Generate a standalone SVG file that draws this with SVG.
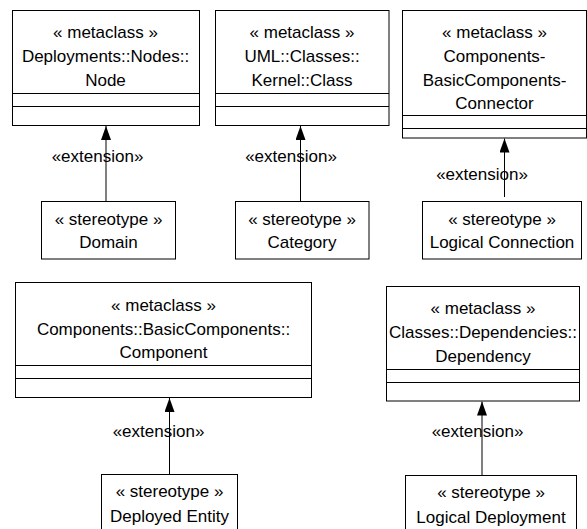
<svg xmlns="http://www.w3.org/2000/svg" width="587" height="529" viewBox="0 0 587 529">
<style>
.box{fill:#fff;stroke:#000;stroke-width:1}
.sep{stroke:#000;stroke-width:1}
.t{font-family:"Liberation Sans",Arial,sans-serif;font-size:17px;fill:#000;text-anchor:middle}
.conn{stroke:#000;stroke-width:1;fill:none;marker-end:url(#tri)}
</style>
<defs>
<marker id="tri" viewBox="0 0 14 10" refX="14" refY="5" markerWidth="14" markerHeight="10" markerUnits="userSpaceOnUse" orient="auto">
<path d="M0,0 L14,5 L0,10 Z" fill="#000"/>
</marker>
</defs>
<rect width="587" height="529" fill="#fff"/>
<g id="node-node">
<rect class="box" x="12.5" y="10.5" width="187" height="115"/>
<line class="sep" x1="12.5" y1="93.5" x2="199.5" y2="93.5"/>
<line class="sep" x1="12.5" y1="106.5" x2="199.5" y2="106.5"/>
<text class="t" x="105.5" y="38">« metaclass »</text>
<text class="t" x="105.5" y="62">Deployments::Nodes::</text>
<text class="t" x="105.5" y="86">Node</text>
</g>
<g id="node-class">
<rect class="box" x="215.5" y="10.5" width="173.5" height="115"/>
<line class="sep" x1="215.5" y1="93.5" x2="389" y2="93.5"/>
<line class="sep" x1="215.5" y1="106.5" x2="389" y2="106.5"/>
<text class="t" x="302" y="38">« metaclass »</text>
<text class="t" x="302" y="62">UML::Classes::</text>
<text class="t" x="302" y="86">Kernel::Class</text>
</g>
<g id="node-connector">
<rect class="box" x="402.5" y="10.5" width="184" height="127.5"/>
<line class="sep" x1="402.5" y1="115.5" x2="586.5" y2="115.5"/>
<line class="sep" x1="402.5" y1="128.5" x2="586.5" y2="128.5"/>
<text class="t" x="494.5" y="38">« metaclass »</text>
<text class="t" x="494.5" y="62">Components-</text>
<text class="t" x="494.5" y="86">BasicComponents-</text>
<text class="t" x="494.5" y="109">Connector</text>
</g>
<g id="node-domain">
<rect class="box" x="41.5" y="201.5" width="134" height="57.5"/>
<text class="t" x="108.5" y="225">« stereotype »</text>
<text class="t" x="108.5" y="248">Domain</text>
</g>
<g id="node-category">
<rect class="box" x="235.5" y="201.5" width="133.5" height="57.5"/>
<text class="t" x="302" y="225">« stereotype »</text>
<text class="t" x="302" y="248">Category</text>
</g>
<g id="node-logical-connection">
<rect class="box" x="422.5" y="201.5" width="159" height="57.5"/>
<text class="t" x="502" y="225">« stereotype »</text>
<text class="t" x="502" y="248">Logical Connection</text>
</g>
<g id="node-component">
<rect class="box" x="15.5" y="282.5" width="296" height="115"/>
<line class="sep" x1="15.5" y1="365.5" x2="311.5" y2="365.5"/>
<line class="sep" x1="15.5" y1="378.5" x2="311.5" y2="378.5"/>
<text class="t" x="163.5" y="311">« metaclass »</text>
<text class="t" x="163.5" y="335">Components::BasicComponents::</text>
<text class="t" x="163.5" y="358">Component</text>
</g>
<g id="node-dependency">
<rect class="box" x="386.5" y="286.5" width="193" height="114.5"/>
<line class="sep" x1="386.5" y1="369.5" x2="579.5" y2="369.5"/>
<line class="sep" x1="386.5" y1="382.5" x2="579.5" y2="382.5"/>
<text class="t" x="483" y="314">« metaclass »</text>
<text class="t" x="483" y="338">Classes::Dependencies::</text>
<text class="t" x="483" y="362">Dependency</text>
</g>
<g id="node-deployed-entity">
<rect class="box" x="101.5" y="474.5" width="136" height="60"/>
<text class="t" x="169.5" y="497">« stereotype »</text>
<text class="t" x="169.5" y="522">Deployed Entity</text>
</g>
<g id="node-logical-deployment">
<rect class="box" x="405.5" y="475.5" width="171" height="60"/>
<text class="t" x="491" y="498">« stereotype »</text>
<text class="t" x="491" y="523">Logical Deployment</text>
</g>
<g id="connectors">
<line class="conn" x1="106" y1="201.5" x2="106" y2="126"/>
<text class="t" x="97.5" y="162">«extension»</text>
<line class="conn" x1="300.5" y1="201.5" x2="300.5" y2="126"/>
<text class="t" x="291" y="162">«extension»</text>
<line class="conn" x1="504.5" y1="197" x2="504.5" y2="138.5"/>
<text class="t" x="482" y="180">«extension»</text>
<line class="conn" x1="169.5" y1="474.5" x2="169.5" y2="398"/>
<text class="t" x="158.5" y="437">«extension»</text>
<line class="conn" x1="482" y1="475.5" x2="482" y2="401.5"/>
<text class="t" x="477.5" y="437">«extension»</text>
</g>
</svg>
